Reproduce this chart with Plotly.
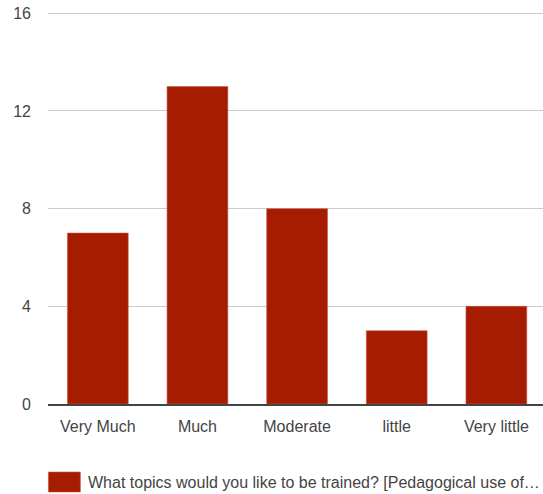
import plotly.graph_objects as go

categories = ["Very Much", "Much", "Moderate", "little", "Very little"]
values = [7, 13, 8, 3, 4]
y_ticks = [0, 4, 8, 12, 16]
series_name = "What topics would you like to be trained? [Pedagogical use of…"

bar_color = "#a61c00"
font_family = "Arial, Liberation Sans, sans-serif"

# plot area geometry (pixels)
L, T, B = 47.6, 11.0, 90
W, H = 543, 494
plot_w = W - L
plot_h = H - T - B
y_top = 16 + (13.3 - T) / ((404 - 13.3) / 16)

fig = go.Figure()
fig.add_trace(go.Bar(
    x=categories, y=values, name=series_name,
    marker=dict(color=bar_color, line=dict(color="#c8574a", width=0.6)),
    showlegend=False,
))

fig.update_layout(
    width=W, height=H,
    margin=dict(l=L, r=0, t=T, b=B),
    paper_bgcolor="white", plot_bgcolor="white",
    bargap=0.39,
    font=dict(family=font_family, size=16, color="#444444"),
    xaxis=dict(
        type="category", range=[-0.5, 4.468],
        showgrid=False, showline=True, linecolor="#444444", linewidth=2,
        ticks="", ticklabelstandoff=7,
        tickfont=dict(size=16, color="#444444"),
        fixedrange=True,
    ),
    yaxis=dict(
        range=[0, y_top], tickvals=y_ticks, ticktext=[str(v) for v in y_ticks],
        showgrid=True, gridcolor="#cccccc", gridwidth=1,
        zeroline=False, showline=False, ticks="",
        ticklabelstandoff=16,
        tickfont=dict(size=16, color="#444444"),
        fixedrange=True,
    ),
    shapes=[dict(
        type="rect", xref="paper", yref="paper",
        x0=(48 - L) / plot_w, x1=(80 - L) / plot_w,
        y0=-(492 - 404) / plot_h, y1=-(472 - 404) / plot_h,
        fillcolor=bar_color, line=dict(color="#c8574a", width=0.6),
    )],
    annotations=[dict(
        text=series_name, xref="paper", yref="paper",
        x=(86 - L) / plot_w, y=-(482 - 404) / plot_h,
        xanchor="left", yanchor="middle", showarrow=False,
        font=dict(size=16, color="#444444", family=font_family),
    )],
)

fig.write_html("out.html", config={"displayModeBar": False},
               post_script="document.body.style.margin='0';")
